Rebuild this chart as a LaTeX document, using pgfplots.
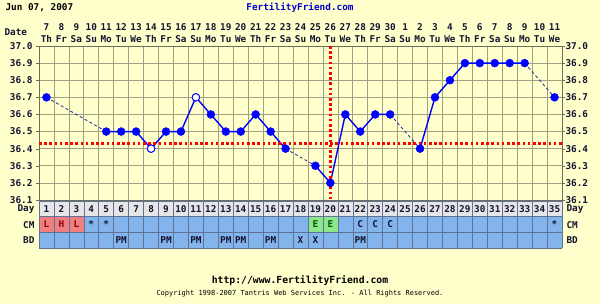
\documentclass[border=0pt]{standalone}
\usepackage{pgfplots}
\pgfplotsset{compat=1.18}
\usepackage{pgfplotstable}
\usepackage{fontspec}
\setmainfont{DejaVu Sans Mono}
\definecolor{bgy}{RGB}{255,255,204}
\definecolor{gridc}{RGB}{160,160,130}
\definecolor{framec}{RGB}{110,110,95}
\definecolor{dayg}{RGB}{230,230,230}
\definecolor{cmb}{RGB}{132,180,236}
\definecolor{cmr}{RGB}{240,128,128}
\definecolor{cmg}{RGB}{140,230,140}
\definecolor{rowline}{RGB}{95,115,150}
\definecolor{txt}{RGB}{20,20,50}
\definecolor{ffblue}{RGB}{0,0,204}
\definecolor{tblue}{RGB}{0,0,255}
\definecolor{dblue}{RGB}{50,50,170}
\newcommand\lf{\fontsize{9.4}{12}\selectfont\bfseries}
\pgfplotstableread{
day temp
1 36.7
2 nan
3 nan
4 nan
5 36.5
6 36.5
7 36.5
8 36.4
9 36.5
10 36.5
11 36.7
12 36.6
13 36.5
14 36.5
15 36.6
16 36.5
17 36.4
18 nan
19 36.3
20 36.2
21 36.6
22 36.5
23 36.6
24 36.6
25 nan
26 36.4
27 36.7
28 36.8
29 36.9
30 36.9
31 36.9
32 36.9
33 36.9
34 nan
35 36.7
}\temps
\pgfplotstableread{
day temp
1 36.7
5 36.5
10 nan
17 36.4
19 36.3
20 nan
24 36.6
26 36.4
30 nan
33 36.9
35 36.7
}\gaps
\pgfplotstableread{
day temp
8 36.4
11 36.7
}\opens
\begin{document}
\begin{tikzpicture}
\fill[bgy] (0,0) rectangle (600bp,304bp);
\useasboundingbox (0,0) rectangle (600bp,304bp);
\node[anchor=west,font=\lf,text=black] at (2bp,296bp) {Jun 07, 2007};
\node[font=\lf,text=ffblue] at (300bp,296bp) {FertilityFriend.com};
\node[anchor=west,font=\lf,text=txt] at (1bp,272bp) {Date};
\node[font=\fontsize{9.8}{11}\selectfont\bfseries,text=black] at (300bp,23bp) {http://www.FertilityFriend.com};
\node[font=\fontsize{7}{8}\selectfont,text=black] at (300bp,10bp) {Copyright 1998-2007 Tantris Web Services Inc. - All Rights Reserved.};
% row labels
\node[anchor=east,font=\lf,text=txt] at (38bp,95bp) {Day};
\node[anchor=east,font=\lf,text=txt] at (38bp,79bp) {CM};
\node[anchor=east,font=\lf,text=txt] at (38bp,63.5bp) {BD};
\node[anchor=west,font=\lf,text=txt] at (563bp,95bp) {Day};
\node[anchor=west,font=\lf,text=txt] at (563bp,79bp) {CM};
\node[anchor=west,font=\lf,text=txt] at (563bp,63.5bp) {BD};
% main temperature axis
\begin{axis}[at={(39bp,104bp)}, anchor=south west, scale only axis,
  width=523bp, height=154bp,
  xmin=0.5, xmax=35.5, ymin=36.1, ymax=37.0,
  axis background/.style={fill=bgy},
  xtick={1,...,35}, xticklabel pos=upper,
  xticklabels={{7\\Th},{8\\Fr},{9\\Sa},{10\\Su},{11\\Mo},{12\\Tu},{13\\We},{14\\Th},{15\\Fr},{16\\Sa},{17\\Su},{18\\Mo},{19\\Tu},{20\\We},{21\\Th},{22\\Fr},{23\\Sa},{24\\Su},{25\\Mo},{26\\Tu},{27\\We},{28\\Th},{29\\Fr},{30\\Sa},{1\\Su},{2\\Mo},{3\\Tu},{4\\We},{5\\Th},{6\\Fr},{7\\Sa},{8\\Su},{9\\Mo},{10\\Tu},{11\\We}},
  xticklabel style={font=\lf,text=txt,align=center,inner sep=0pt},
  x tick label style={yshift=3bp},
  xtick style={draw=none},
  minor xtick={0.5,1.5,...,35.5},
  ytick={36.1,36.2,...,37.0},
  yticklabel style={font=\lf,text=txt,/pgf/number format/fixed,/pgf/number format/fixed zerofill,/pgf/number format/precision=1},
  /pgf/number format/assume math mode=true,
  ytick align=outside, major tick length=3bp,
  ytick style={draw=framec},
  grid=both, grid style={draw=gridc,line width=0.7bp},
  minor grid style={draw=gridc,line width=0.7bp},
  major x grid style={draw=none},
  axis line style={draw=framec,line width=0.8bp},
  unbounded coords=jump, clip=false]
\addplot[dblue, line width=0.9bp, dash pattern=on 3bp off 2.5bp] table[x=day,y=temp] {\gaps};
\addplot[tblue, line width=1.4bp] table[x=day,y=temp] {\temps};
\addplot[only marks, mark=*, mark size=4bp, mark options={fill=tblue,draw=tblue}] table[x=day,y=temp] {\temps};
\addplot[only marks, mark=*, mark size=3.7bp, mark options={fill=white,draw=tblue,line width=0.8bp}] table[x=day,y=temp] {\opens};
\addplot[red, line width=2.6bp, dash pattern=on 2.6bp off 2.6bp] coordinates {(0.5,36.43) (35.5,36.43)};
\addplot[red, line width=2.6bp, dash pattern=on 2.6bp off 2.6bp] coordinates {(20,37.0) (20,36.1)};
\end{axis}
% right tick labels
\begin{axis}[at={(39bp,104bp)}, anchor=south west, scale only axis,
  width=523bp, height=154bp,
  xmin=0.5, xmax=35.5, ymin=36.1, ymax=37.0,
  hide x axis, axis y line*=right, y axis line style={draw=none},
  ytick={36.1,36.2,...,37.0},
  yticklabel style={font=\lf,text=txt,/pgf/number format/fixed,/pgf/number format/fixed zerofill,/pgf/number format/precision=1},
  /pgf/number format/assume math mode=true,
  ytick style={draw=none}]
\addplot[draw=none] coordinates {(1,36.5)};
\end{axis}
% rows
\begin{axis}[at={(39bp,56bp)}, anchor=south west, scale only axis,
  width=523bp, height=47bp,
  xmin=0.5, xmax=35.5, ymin=0, ymax=3,
  axis lines=none, ticks=none, clip=false]
\fill[dayg] (axis cs:0.5,2) rectangle (axis cs:35.5,3);
\fill[cmb] (axis cs:0.5,0) rectangle (axis cs:35.5,2);
\fill[cmr] (axis cs:0.5,1) rectangle (axis cs:3.5,2);
\fill[cmg] (axis cs:18.5,1) rectangle (axis cs:20.5,2);
\pgfplotsinvokeforeach{0,...,35}{\draw[rowline,line width=0.6bp] (axis cs:#1.5,0) -- (axis cs:#1.5,3);}
\pgfplotsinvokeforeach{0,1,2,3}{\draw[rowline,line width=0.8bp] (axis cs:0.5,#1) -- (axis cs:35.5,#1);}
\pgfplotsinvokeforeach{1,...,35}{\node[font=\lf,text=txt] at (axis cs:#1,2.5) {#1};}
\node[font=\lf,text=red!55!black] at (axis cs:1,1.5) {L};
\node[font=\lf,text=red!55!black] at (axis cs:2,1.5) {H};
\node[font=\lf,text=red!55!black] at (axis cs:3,1.5) {L};
\node[font=\lf,text=txt] at (axis cs:4,1.5) {*};
\node[font=\lf,text=txt] at (axis cs:5,1.5) {*};
\node[font=\lf,text=green!35!black] at (axis cs:19,1.5) {E};
\node[font=\lf,text=green!35!black] at (axis cs:20,1.5) {E};
\node[font=\lf,text=txt] at (axis cs:22,1.5) {C};
\node[font=\lf,text=txt] at (axis cs:23,1.5) {C};
\node[font=\lf,text=txt] at (axis cs:24,1.5) {C};
\node[font=\lf,text=txt] at (axis cs:35,1.5) {*};
\pgfplotsinvokeforeach{6,9,11,13,14,16,22}{\node[font=\lf,text=txt] at (axis cs:#1,0.5) {PM};}
\pgfplotsinvokeforeach{18,19}{\node[font=\lf,text=txt] at (axis cs:#1,0.5) {X};}
\end{axis}
\end{tikzpicture}
\end{document}
